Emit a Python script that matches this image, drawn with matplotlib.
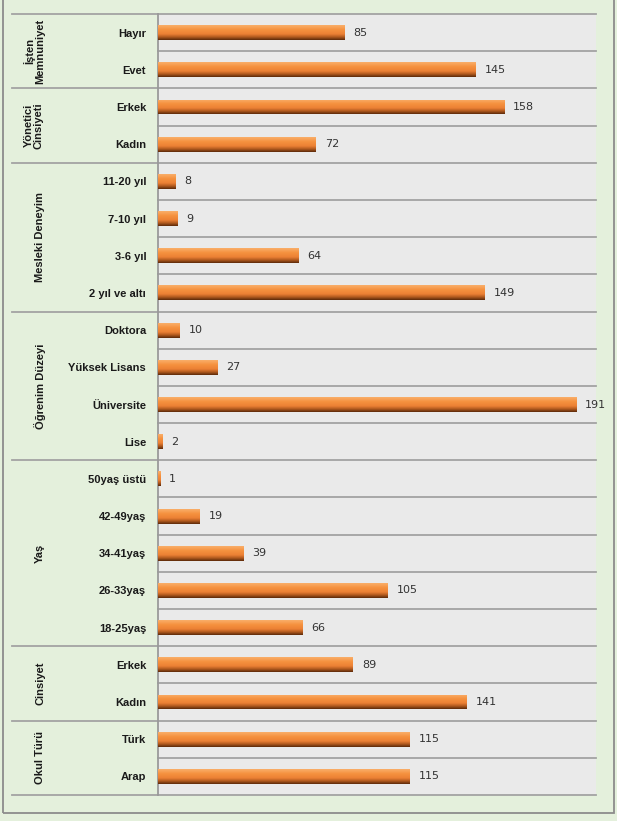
import matplotlib.pyplot as plt
import numpy as np
from matplotlib.colors import LinearSegmentedColormap
from matplotlib.patches import Rectangle
from matplotlib.transforms import blended_transform_factory

# data, top to bottom
groups = ["İşten\nMemnuniyet", "Yönetici\nCinsiyeti", "Mesleki Deneyim",
          "Öğrenim Düzeyi", "Yaş", "Cinsiyet", "Okul Türü"]
items_isten = ["Hayır", "Evet"]
items_yonetici = ["Erkek", "Kadın"]
items_deneyim = ["11-20 yıl", "7-10 yıl", "3-6 yıl", "2 yıl ve altı"]
items_ogrenim = ["Doktora", "Yüksek Lisans", "Üniversite", "Lise"]
items_yas = ["50yaş üstü", "42-49yaş", "34-41yaş", "26-33yaş", "18-25yaş"]
items_cinsiyet = ["Erkek", "Kadın"]
items_okul = ["Türk", "Arap"]

vals_isten = [85, 145]
vals_yonetici = [158, 72]
vals_deneyim = [8, 9, 64, 149]
vals_ogrenim = [10, 27, 191, 2]
vals_yas = [1, 19, 39, 105, 66]
vals_cinsiyet = [89, 141]
vals_okul = [115, 115]

group_items = [items_isten, items_yonetici, items_deneyim, items_ogrenim,
               items_yas, items_cinsiyet, items_okul]
group_vals = [vals_isten, vals_yonetici, vals_deneyim, vals_ogrenim,
              vals_yas, vals_cinsiyet, vals_okul]

labels = [l for g in group_items for l in g]
values = [v for g in group_vals for v in g]
n = len(labels)
y = np.arange(n)

W, H = 617, 821
bg_green = "#E4F0DC"
plot_gray = "#EAEAEA"
grid_col = "#A3A3A3"

plt.rcParams['font.family'] = ['Liberation Sans', 'DejaVu Sans']

fig = plt.figure(figsize=(W / 100, H / 100), dpi=100, facecolor=bg_green)
ax = fig.add_axes([158 / W, 1 - 795 / H, 438 / W, 781 / H])
ax.set_facecolor(plot_gray)

bar_h = 0.4
cmap = LinearSegmentedColormap.from_list(
    "org", [(0.0, "#F9AE6A"), (0.3, "#F6923F"), (0.6, "#EC8134"),
            (0.8, "#B25A1F"), (1.0, "#5C2A0A")])
grad = np.linspace(0, 1, 64).reshape(-1, 1)

bars = ax.barh(y, values, height=bar_h, color="#F28A3A", zorder=3)
for b, yy, v in zip(bars, y, values):
    im = ax.imshow(grad, cmap=cmap, aspect='auto', zorder=4,
                   extent=[0, v, yy + bar_h / 2, yy - bar_h / 2],
                   interpolation='bilinear')
    im.set_clip_path(b)
    ax.annotate(str(v), (v, yy), xytext=(6.5, 0), textcoords='offset points',
                va='center', ha='left', fontsize=8, color="#333333",
                family='DejaVu Sans', zorder=5)

ax.set_xlim(0, 200)
ax.set_ylim(n - 0.5, -0.5)

# horizontal lines between categories
for k in range(n + 1):
    ax.axhline(k - 0.5, color=grid_col, lw=1.3, zorder=2, clip_on=False)

ax.set_yticks(y)
ax.set_yticklabels(labels, fontsize=8, fontweight='bold', color="#1A1A1A")
ax.tick_params(axis='y', length=0, pad=8.5)
ax.set_xticks([])
for s in ['top', 'right', 'bottom']:
    ax.spines[s].set_visible(False)
ax.spines['left'].set_color("#9A9A9A")
ax.spines['left'].set_linewidth(1.3)

# group separators and group labels in the left panel
tr = blended_transform_factory(ax.transAxes, ax.transData)
left_x = (12 - 158) / 438
start = 0
bounds = [-0.5]
for g, its in zip(groups, group_items):
    end = start + len(its)
    bounds.append(end - 0.5)
    cy = (start + end - 1) / 2
    gx = (34 - 158) / 438 if "\n" in g else (40 - 158) / 438
    ax.text(gx, cy, g, transform=tr, rotation=90, ha='center', va='center',
            fontsize=8, fontweight='bold', color="#1A1A1A",
            linespacing=1.0, multialignment='center')
    start = end
for bnd in bounds:
    ax.plot([left_x, 0], [bnd, bnd], transform=tr, color=grid_col, lw=1.3,
            clip_on=False, zorder=2)

# outer frame
fig.patches.append(Rectangle((3 / W, 1 - 813 / H), 611 / W, 813 / H + 0.01,
                             transform=fig.transFigure, fill=False,
                             edgecolor="#8C8C8C", lw=1.3))

fig.savefig("out.png", dpi=100, facecolor=bg_green)
